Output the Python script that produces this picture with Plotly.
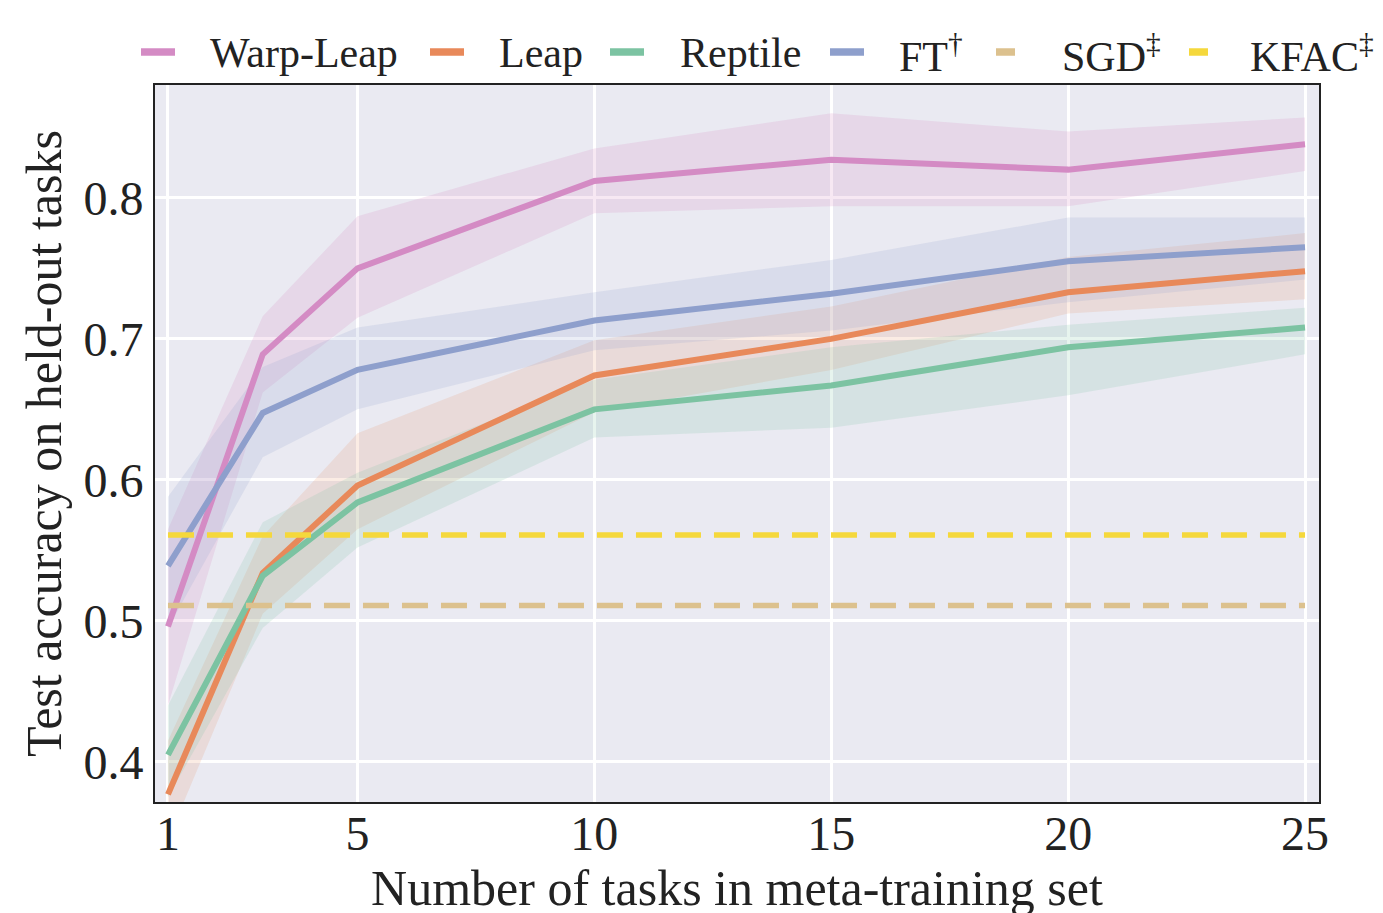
import plotly.graph_objects as go

x_tasks = [1, 3, 5, 10, 15, 20, 25]

warp_leap = [0.496, 0.689, 0.750, 0.812, 0.827, 0.820, 0.838]
warp_leap_lo = [0.440, 0.662, 0.715, 0.789, 0.794, 0.794, 0.819]
warp_leap_hi = [0.565, 0.716, 0.787, 0.835, 0.860, 0.847, 0.857]

leap = [0.377, 0.534, 0.596, 0.674, 0.700, 0.733, 0.748]
leap_lo = [0.345, 0.505, 0.565, 0.648, 0.678, 0.718, 0.728]
leap_hi = [0.415, 0.560, 0.633, 0.699, 0.723, 0.758, 0.775]

reptile = [0.405, 0.532, 0.584, 0.650, 0.667, 0.694, 0.708]
reptile_lo = [0.375, 0.495, 0.552, 0.630, 0.637, 0.660, 0.689]
reptile_hi = [0.440, 0.570, 0.605, 0.671, 0.694, 0.710, 0.722]

ft = [0.539, 0.6475, 0.678, 0.713, 0.732, 0.755, 0.765]
ft_lo = [0.495, 0.616, 0.650, 0.692, 0.706, 0.726, 0.742]
ft_hi = [0.588, 0.680, 0.708, 0.733, 0.756, 0.786, 0.786]

sgd_level = 0.511
kfac_level = 0.561

names = ["Warp-Leap", "Leap", "Reptile", "FT<sup>†</sup>"]
baseline_names = ["SGD<sup>‡</sup>", "KFAC<sup>‡</sup>"]
line_colors = ["#D48BC4", "#E8895A", "#7CC3A2", "#8E9FCC"]
baseline_colors = ["#DCC18E", "#F5D83C"]
fill_colors = ["rgba(214,139,196,0.20)", "rgba(232,137,90,0.16)",
               "rgba(124,195,162,0.18)", "rgba(142,159,204,0.18)"]
series = [warp_leap, leap, reptile, ft]
lows = [warp_leap_lo, leap_lo, reptile_lo, ft_lo]
highs = [warp_leap_hi, leap_hi, reptile_hi, ft_hi]

fig = go.Figure()

# bands
for s_lo, s_hi, fc in zip(lows, highs, fill_colors):
    fig.add_trace(go.Scatter(
        x=x_tasks + x_tasks[::-1], y=s_hi + s_lo[::-1],
        fill="toself", fillcolor=fc, line=dict(width=0),
        mode="lines", showlegend=False, hoverinfo="skip"))

# main lines
for nm, s, lc in zip(names, series, line_colors):
    fig.add_trace(go.Scatter(
        x=x_tasks, y=s, mode="lines", name=nm, showlegend=False,
        line=dict(color=lc, width=6)))

# baselines
for nm, lvl, lc in zip(baseline_names, [sgd_level, kfac_level], baseline_colors):
    fig.add_trace(go.Scatter(
        x=[x_tasks[0], x_tasks[-1]], y=[lvl, lvl], mode="lines",
        name=nm, showlegend=False,
        line=dict(color=lc, width=5.5, dash="26px,13px")))

font_family = "Liberation Serif, DejaVu Serif, serif"

# ---- legend drawn above the plot (layout in page pixels -> paper coords) ----
plot_l, plot_r, plot_t, plot_b = 155, 1319, 85, 802
def px_x(p):
    return (p - plot_l) / (plot_r - plot_l)
def px_y(p):
    return (plot_b - p) / (plot_b - plot_t)

legend_names = names + baseline_names
legend_colors = line_colors + baseline_colors
sym_starts = [138, 427, 607, 827, 993, 1186]
sym_lens = [40, 40, 40, 40, 25, 25]
text_starts = [208, 497, 678, 897, 1060, 1248]
leg_y = 52

for nm, col, s0, sl, t0 in zip(legend_names, legend_colors, sym_starts, sym_lens, text_starts):
    fig.add_shape(type="line", xref="paper", yref="paper",
                  x0=px_x(s0 + 3), x1=px_x(s0 + sl - 3), y0=px_y(leg_y), y1=px_y(leg_y),
                  line=dict(color=col, width=7.5))
    fig.add_annotation(xref="paper", yref="paper", x=px_x(t0), y=px_y(leg_y + 1),
                       xanchor="left", yanchor="middle", text=nm, showarrow=False,
                       font=dict(size=42, family=font_family, color="#222"))

fig.update_layout(
    width=1383, height=913,
    margin=dict(l=147, r=72, t=77, b=119),
    paper_bgcolor="white",
    plot_bgcolor="#EAEAF2",
    font=dict(family=font_family, size=48, color="#222"),
    showlegend=False,
)

fig.update_xaxes(
    range=[0.726, 25.295], tickvals=[1, 5, 10, 15, 20, 25],
    ticktext=["1", "5", "10", "15", "20", "25"],
    showgrid=True, gridcolor="white", gridwidth=2.5,
    zeroline=False, showline=True, linecolor="#222", linewidth=2, mirror=True,
    ticks="", tickfont=dict(size=48), ticklabelstandoff=-12,
    title=dict(text="Number of tasks in meta-training set", font=dict(size=50), standoff=2),
)
fig.update_yaxes(
    range=[0.3716, 0.880], tickvals=[0.4, 0.5, 0.6, 0.7, 0.8],
    ticktext=["0.4", "0.5", "0.6", "0.7", "0.8"],
    showgrid=True, gridcolor="white", gridwidth=2.5,
    zeroline=False, showline=True, linecolor="#222", linewidth=2, mirror=True,
    ticks="", tickfont=dict(size=48),
    title=dict(text="Test accuracy on held-out tasks", font=dict(size=50), standoff=6),
)

fig.write_html("out.html")
